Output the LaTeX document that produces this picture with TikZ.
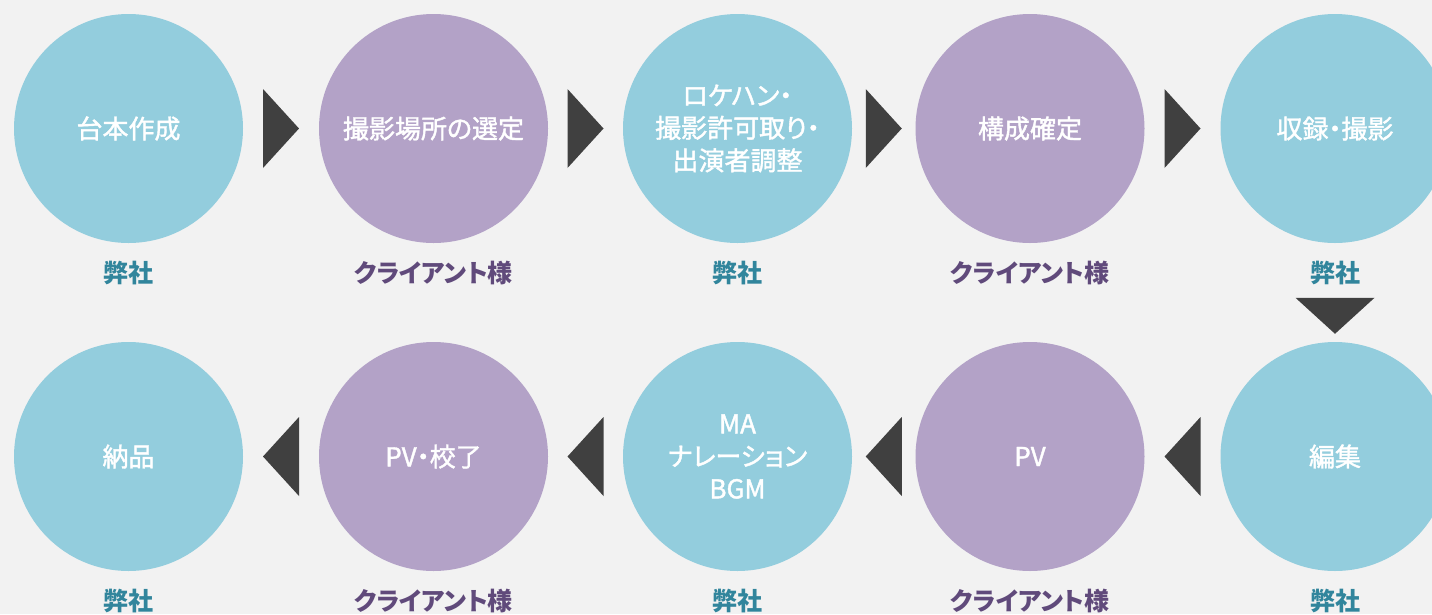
\documentclass[tikz,border=0pt]{standalone}
\usepackage{fontspec}
\setmainfont{Noto Sans CJK JP}[RawFeature=+palt]
\newfontfamily\stagefont{Noto Sans CJK JP}[RawFeature=+palt,FakeBold=1.5]
\usetikzlibrary{calc}
\definecolor{bggray}{HTML}{F2F2F2}
\definecolor{stepblue}{HTML}{93CDDD}
\definecolor{steppurple}{HTML}{B3A2C7}
\definecolor{tealtext}{HTML}{31859C}
\definecolor{purpletext}{HTML}{604A7B}
\definecolor{trigray}{HTML}{404040}
\tikzset{
  stage/.style={circle,minimum size=229pt,inner sep=0pt,text=white,align=center,
    font=\stagefont\fontsize{26}{32.5}\selectfont},
  ours/.style={stage,fill=stepblue},
  theirs/.style={stage,fill=steppurple},
  who/.style={font=\bfseries\fontsize{25}{30}\selectfont},
  tri/.pic={\fill[trigray] (-18,-39.5) -- (18,0) -- (-18,39.5) -- cycle;}
}
\begin{document}
\begin{tikzpicture}[x=1pt,y=-1pt]
  \clip (0,0) rectangle (1432,614);
  \fill[bggray] (0,0) rectangle (1432,614);
  % upper row
  \node[ours]   (c1) at (128.5,128.5) {台本作成};
  \node[theirs] (c2) at (433.5,128.5) {撮影場所の選定};
  \node[ours]   (c3) at (737.5,128.5) {ロケハン・\\撮影許可取り・\\出演者調整};
  \node[theirs] (c4) at (1030,128.5)  {構成確定};
  \node[ours]   (c5) at (1335,128.5)  {収録・撮影};
  % lower row, right to left
  \node[ours]   (c6)  at (1335,456.5)  {編集};
  \node[theirs] (c7)  at (1030,456.5)  {PV};
  \node[ours]   (c8)  at (737.5,456.5) {MA\\ナレーション\\BGM};
  \node[theirs] (c9)  at (433.5,456.5) {PV・校了};
  \node[ours]   (c10) at (128.5,456.5) {納品};
  % who does it
  \foreach \n in {1,3,5,6,8,10}
    \node[who,text=tealtext] (w\n) at ($(c\n)+(0,144.5)$) {弊社};
  \foreach \n in {2,4,7,9}
    \node[who,text=purpletext] (w\n) at ($(c\n)+(0,144.5)$) {クライアント様};
  % arrows
  \foreach \a/\b in {1/2,2/3,3/4,4/5}
    \path ($(c\a)!0.5!(c\b)$) pic {tri};
  \foreach \a/\b in {6/7,7/8,8/9,9/10}
    \path ($(c\a)!0.5!(c\b)$) pic[rotate=180] {tri};
  \path (c6.north) ++(0,-26) pic[rotate=-90] {tri};
\end{tikzpicture}
\end{document}
